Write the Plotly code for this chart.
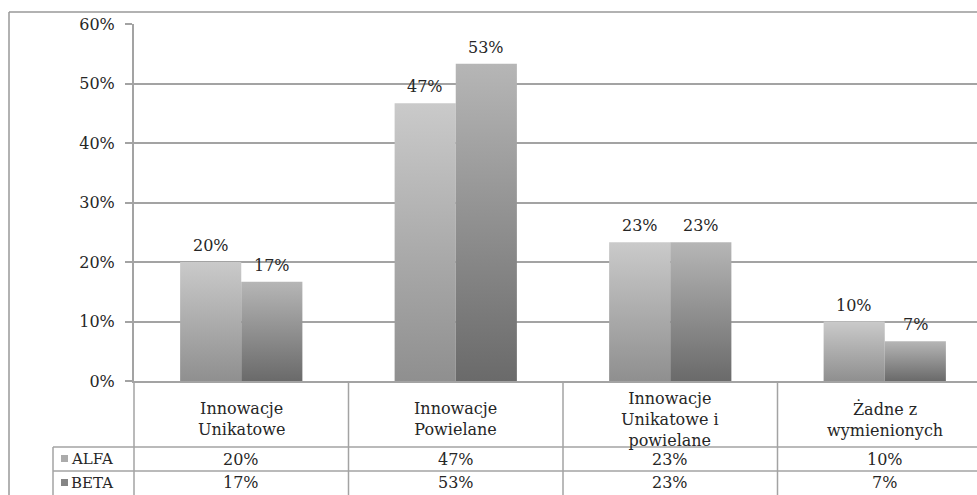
import plotly.graph_objects as go

# ---- data -------------------------------------------------------------
categories = [
    "Innowacje<br>Unikatowe",
    "Innowacje<br>Powielane",
    "Innowacje<br>Unikatowe i<br>powielane",
    "Żadne z<br>wymienionych",
]
series_names = ["ALFA", "BETA"]
alfa = [20.0, 46.7, 23.3, 10.0]
beta = [16.7, 53.3, 23.3, 6.7]
y_ticks = [0, 10, 20, 30, 40, 50, 60]

# ---- layout constants (pixels) ---------------------------------------
W, H = 977, 495
L, T, BOT = 134, 24, 381          # plot area left / top / bottom
PW, PH = W - L, BOT - T
CAT_W = 214.5                      # width of one category slot
BAR_W = 0.285                      # bar width in category units
X0 = -0.5
X1 = X0 + PW / CAT_W

FONT = "DejaVu Serif"
TXT = "#262626"
LINE = "#a3a3a3"

# gradients: (bottom colour, top colour)
grads = {
    "ALFA": ("#8f8f8f", "#cacaca"),
    "BETA": ("#6a6a6a", "#b6b6b6"),
}
key_colors = {"ALFA": "#ababab", "BETA": "#858585"}


def px(xp):
    return (xp - L) / PW


def py(yp):
    return (BOT - yp) / PH


def data_to_px(d):
    return L + (d - X0) * CAT_W


fig = go.Figure()

# ---- bars as gradient-filled polygons --------------------------------
annotations = []
for s, (name, vals) in enumerate(zip(series_names, [alfa, beta])):
    lo, hi = grads[name]
    for i, v in enumerate(vals):
        x0 = i - BAR_W + s * BAR_W
        x1 = x0 + BAR_W
        fig.add_trace(go.Scatter(
            x=[x0, x0, x1, x1, x0],
            y=[0, v, v, 0, 0],
            mode="lines",
            line=dict(width=0),
            fill="toself",
            fillgradient=dict(type="vertical", start=0, stop=v,
                              colorscale=[[0, lo], [1, hi]]),
            hoverinfo="skip",
            showlegend=False,
        ))
        annotations.append(dict(
            x=(x0 + x1) / 2, y=v, xref="x", yref="y",
            text=f"{v:.0f}%", showarrow=False,
            yanchor="bottom", yshift=5,
            font=dict(family=FONT, size=16, color=TXT),
        ))

# ---- data table below the axis ---------------------------------------
shapes = []
line_style = dict(color=LINE, width=1.5)

# outer frame
shapes.append(dict(type="line", xref="paper", yref="paper",
                   x0=px(9), x1=px(W + 5), y0=py(12), y1=py(12),
                   line=dict(color="#999999", width=1.5)))
shapes.append(dict(type="line", xref="paper", yref="paper",
                   x0=px(9), x1=px(9), y0=py(12), y1=py(H + 5),
                   line=dict(color="#999999", width=1.5)))

# category separators
for k in range(len(categories) + 1):
    xp = data_to_px(X0 + k)
    if xp > W:
        continue
    shapes.append(dict(type="line", xref="paper", yref="paper",
                       x0=px(xp), x1=px(xp), y0=py(BOT), y1=py(H + 5),
                       line=line_style))

ROW1, ROW2 = 447, 471
TAB_L = 53
for yp in (ROW1, ROW2):
    shapes.append(dict(type="line", xref="paper", yref="paper",
                       x0=px(TAB_L), x1=px(W + 5), y0=py(yp), y1=py(yp),
                       line=line_style))
shapes.append(dict(type="line", xref="paper", yref="paper",
                   x0=px(TAB_L), x1=px(TAB_L), y0=py(ROW1), y1=py(H + 5),
                   line=line_style))

# category labels
for i, c in enumerate(categories):
    annotations.append(dict(
        x=px(data_to_px(i)), y=py((BOT + ROW1) / 2 + 5),
        xref="paper", yref="paper", text=c, showarrow=False,
        xanchor="center", yanchor="middle", align="center",
        font=dict(family=FONT, size=16, color=TXT),
    ))

# series rows
for r, (name, vals) in enumerate(zip(series_names, [alfa, beta])):
    ymid = (ROW1 + ROW2) / 2 + r * (ROW2 - ROW1)
    shapes.append(dict(type="rect", xref="paper", yref="paper",
                       x0=px(61), x1=px(68), y0=py(ymid - 4), y1=py(ymid + 3),
                       fillcolor=key_colors[name], line=dict(width=0)))
    annotations.append(dict(
        x=px(69), y=py(ymid), xref="paper", yref="paper",
        text=name, showarrow=False, xanchor="left", yanchor="middle",
        font=dict(family=FONT, size=15, color=TXT),
    ))
    for i, v in enumerate(vals):
        annotations.append(dict(
            x=px(data_to_px(i)), y=py(ymid), xref="paper", yref="paper",
            text=f"{v:.0f}%", showarrow=False,
            xanchor="center", yanchor="middle",
            font=dict(family=FONT, size=16, color=TXT),
        ))

fig.update_layout(
    width=W, height=H,
    margin=dict(l=L, r=0, t=T, b=H - BOT),
    paper_bgcolor="white", plot_bgcolor="white",
    showlegend=False,
    shapes=shapes,
    annotations=annotations,
    xaxis=dict(range=[X0, X1], showgrid=False, showticklabels=False,
               zeroline=False, showline=True, linecolor=LINE, linewidth=1.5,
               ticks="", fixedrange=True),
    yaxis=dict(range=[0, 60], tickvals=y_ticks,
               ticktext=[f"{t}%" for t in y_ticks],
               showgrid=True, gridcolor=LINE, gridwidth=1.5,
               zeroline=False, showline=True, linecolor=LINE, linewidth=2,
               ticks="outside", ticklen=7, tickcolor=LINE, tickwidth=1.5,
               ticklabelstandoff=7,
               tickfont=dict(family=FONT, size=16, color=TXT),
               fixedrange=True),
)

fig.write_html("out.html")
